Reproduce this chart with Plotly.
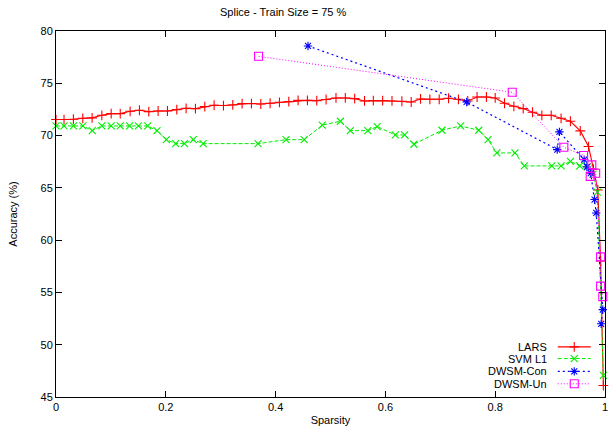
import plotly.graph_objects as go

# ---------------- data ----------------
lars_x = [0, 0.0146, 0.0317, 0.0488, 0.0658, 0.0835, 0.1005, 0.117, 0.135, 0.152,
          0.169, 0.186, 0.203, 0.220, 0.237, 0.254, 0.271, 0.288, 0.305, 0.322,
          0.339, 0.356, 0.373, 0.390, 0.407, 0.424, 0.441, 0.458, 0.475, 0.492,
          0.510, 0.527, 0.544, 0.562, 0.578, 0.595, 0.612, 0.630, 0.647, 0.664,
          0.681, 0.698, 0.715, 0.733, 0.750, 0.767, 0.784, 0.800, 0.817, 0.834,
          0.851, 0.868, 0.885, 0.902, 0.920, 0.937, 0.955, 0.970,
          0.979, 0.987, 0.992, 0.997]
lars_y = [71.53, 71.53, 71.56, 71.65, 71.69, 71.94, 72.10, 72.10, 72.32, 72.42,
          72.29, 72.35, 72.35, 72.48, 72.61, 72.58, 72.77, 72.90, 72.87, 72.93,
          73.06, 73.06, 73.02, 73.09, 73.18, 73.25, 73.37, 73.37, 73.34, 73.45,
          73.60, 73.60, 73.53, 73.31, 73.34, 73.34, 73.31, 73.28, 73.21, 73.50,
          73.47, 73.47, 73.57, 73.47, 73.31, 73.69, 73.69, 73.60, 73.09, 72.80,
          72.58, 72.23, 71.94, 71.94, 71.65, 71.37, 70.45, 68.95,
          66.8, 64.8, 58.0, 46.1]

svm_x = [0, 0.0146, 0.0317, 0.049, 0.066, 0.0835, 0.1005, 0.117, 0.134, 0.150,
         0.167, 0.184, 0.201, 0.218, 0.234, 0.250, 0.268, 0.368, 0.419, 0.452,
         0.485, 0.518, 0.536, 0.568, 0.585, 0.618, 0.635, 0.652, 0.703, 0.737,
         0.770, 0.787, 0.803, 0.836, 0.853, 0.903, 0.920, 0.937, 0.954, 0.968,
         0.978, 0.986, 0.997]
svm_y = [70.92, 70.92, 70.92, 70.92, 70.47, 70.92, 70.92, 70.92, 70.92, 70.92,
         70.92, 70.47, 69.61, 69.23, 69.23, 69.61, 69.23, 69.23, 69.61, 69.61,
         71.0, 71.37, 70.47, 70.47, 70.86, 70.06, 70.06, 69.17, 70.51, 70.92,
         70.51, 69.61, 68.34, 68.34, 67.10, 67.10, 67.10, 67.54, 67.10, 67.0,
         66.3, 64.6, 47.06]

con_x = [0.459, 0.748, 0.913, 0.917, 0.962, 0.967, 0.974, 0.981, 0.984, 0.996, 0.993]
con_y = [78.57, 73.21, 68.66, 70.35, 67.70, 67.00, 66.40, 63.88, 62.60, 53.36, 52.00]

un_x = [0.369, 0.831, 0.925, 0.961, 0.976, 0.973, 0.983, 0.992, 0.992, 0.996]
un_y = [77.58, 74.14, 68.88, 68.10, 67.20, 66.10, 66.40, 58.40, 55.60, 54.60]

series_names = ["LARS", "SVM L1", "DWSM-Con", "DWSM-Un"]
x_ticks = [0, 0.2, 0.4, 0.6, 0.8, 1]
x_tick_labels = ["0", "0.2", "0.4", "0.6", "0.8", "1"]
y_ticks = [45, 50, 55, 60, 65, 70, 75, 80]

# ---------------- styles ----------------
FONT = "Liberation Sans, Arial, sans-serif"
styles = [
    dict(color="#ff0000", dash="solid", symbol="cross-thin-open", width=1.1, msize=7),
    dict(color="#00ee00", dash="4px,2px", symbol="x-thin-open", width=1.0, msize=7),
    dict(color="#0000ff", dash="2px,3px", symbol="asterisk-open", width=1.2, msize=7),
    dict(color="#ff00ff", dash="1px,2px", symbol="square-open", width=1.0, msize=8),
]
data = [(lars_x, lars_y), (svm_x, svm_y), (con_x, con_y), (un_x, un_y)]

fig = go.Figure()
for (xs, ys), st, nm in zip(data, styles, series_names):
    fig.add_trace(go.Scatter(
        x=xs, y=ys, mode="lines+markers", name=nm, showlegend=False,
        line=dict(color=st["color"], dash=st["dash"], width=st["width"]),
        marker=dict(symbol=st["symbol"], size=st["msize"], color=st["color"],
                    line=dict(color=st["color"], width=1.1)),
        cliponaxis=False,
    ))

# legend drawn gnuplot-style (text right-aligned, sample on right) on an overlay axis
leg_rows = [0.137, 0.105, 0.070, 0.036]
for st, nm, ry in zip(styles, series_names, leg_rows):
    fig.add_trace(go.Scatter(
        x=[0.914, 0.974], y=[ry, ry], mode="lines", xaxis="x2", yaxis="y2",
        showlegend=False, hoverinfo="skip",
        line=dict(color=st["color"], dash=st["dash"], width=st["width"]),
    ))
    fig.add_trace(go.Scatter(
        x=[0.944], y=[ry], mode="markers", xaxis="x2", yaxis="y2",
        showlegend=False, hoverinfo="skip",
        marker=dict(symbol=st["symbol"], size=st["msize"], color=st["color"],
                    line=dict(color=st["color"], width=1.1)),
    ))
    fig.add_annotation(x=0.898, y=ry, xref="paper", yref="paper", text=nm,
                       showarrow=False, xanchor="right", yanchor="middle",
                       font=dict(family=FONT, size=11, color="#000000"))

axis_common = dict(
    showgrid=False, zeroline=False, showline=True, linecolor="#000000",
    linewidth=1, mirror="allticks", ticks="inside", ticklen=6,
    tickcolor="#000000", tickfont=dict(family=FONT, size=11, color="#000000"),
    automargin=False,
)
fig.update_layout(
    width=609, height=432,
    margin=dict(l=56, r=4, t=31, b=35),
    paper_bgcolor="#ffffff", plot_bgcolor="#ffffff",
    xaxis=dict(range=[0, 1], tickvals=x_ticks, ticktext=x_tick_labels,
               title=dict(text="Sparsity", font=dict(family=FONT, size=11, color="#000"),
                          standoff=4),
               **axis_common),
    yaxis=dict(range=[45, 80], tickvals=y_ticks,
               title=dict(text="Accuracy (%)", font=dict(family=FONT, size=11, color="#000"),
                          standoff=20),
               **axis_common),
    xaxis2=dict(range=[0, 1], overlaying="x", visible=False, fixedrange=True),
    yaxis2=dict(range=[0, 1], overlaying="y", visible=False, fixedrange=True),
    showlegend=False,
)
fig.add_annotation(x=0.414, y=1, xref="paper", yref="paper", yshift=19,
                   text="Splice - Train Size = 75 %", showarrow=False,
                   xanchor="center", yanchor="middle",
                   font=dict(family=FONT, size=11, color="#000000"))

fig.write_html(
    "out.html",
    config={"displayModeBar": False},
    post_script="document.body.style.margin='0';document.body.style.overflow='hidden';",
)
